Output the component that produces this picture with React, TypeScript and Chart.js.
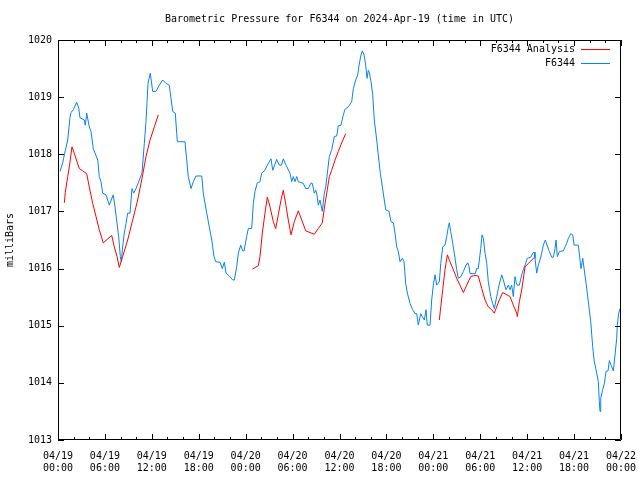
import React, { useEffect, useRef } from "react";
import { Chart, registerables } from "chart.js";

Chart.register(...registerables);

const TITLE = "Barometric Pressure for F6344 on 2024-Apr-19 (time in UTC)";
const Y_LABEL = "milliBars";
const SERIES_ANALYSIS = "F6344 Analysis";
const SERIES_OBS = "F6344";

// x tick labels (hours since 04/19 00:00 UTC, every 6 h)
const tickDates = ["04/19", "04/19", "04/19", "04/19", "04/20", "04/20", "04/20", "04/20", "04/21", "04/21", "04/21", "04/21", "04/22"];
const tickTimes = ["00:00", "06:00", "12:00", "18:00", "00:00", "06:00", "12:00", "18:00", "00:00", "06:00", "12:00", "18:00", "00:00"];

// F6344 observations: hours since start, pressure (mb)
const obsHours = [
  0.26, 0.6, 0.81, 1.24, 1.53, 1.66, 1.96, 2.39, 2.65, 2.81, 3.36, 3.49, 3.67, 4.0, 4.22, 4.51, 5.08, 5.28, 5.5, 5.72,
  6.14, 6.56, 7.07, 7.29, 7.55, 7.76, 7.97, 8.1, 8.27, 8.48, 8.7, 8.91, 9.21, 9.46, 9.68, 9.98, 10.4, 10.74, 11.04, 11.25,
  11.38, 11.51, 11.8, 12.11, 12.53, 12.96, 13.39, 13.81, 14.23, 14.45, 14.67, 15.0, 15.26, 16.24, 16.46, 16.66, 17.01, 17.3, 17.65, 18.38,
  18.58, 19.02, 19.35, 19.66, 19.95, 20.17, 20.72, 21.01, 21.27, 21.49, 21.91, 22.34, 22.55, 22.85, 23.06, 23.37, 23.62, 23.79, 24.13, 24.34,
  24.77, 24.98, 25.19, 25.49, 25.83, 26.05, 26.47, 26.77, 27.24, 27.46, 27.97, 28.3, 28.58, 28.81, 29.16, 29.67, 29.89, 30.09, 30.31, 30.53,
  30.73, 31.37, 31.68, 32.01, 32.36, 32.52, 32.78, 32.96, 33.12, 33.29, 33.51, 33.64, 33.8, 34.06, 34.24, 34.49, 34.7, 35.0, 35.34, 35.64,
  35.85, 36.19, 36.49, 36.71, 37.13, 37.56, 37.77, 38.07, 38.33, 38.5, 38.75, 38.92, 39.14, 39.35, 39.52, 39.69, 39.82, 40.03, 40.25, 40.45,
  40.76, 40.96, 41.22, 41.48, 41.73, 41.91, 42.33, 42.59, 42.88, 43.1, 43.32, 43.52, 43.74, 44.03, 44.25, 44.47, 44.68, 45.02, 45.36, 45.66,
  45.88, 46.08, 46.39, 46.62, 46.85, 47.07, 47.23, 47.58, 47.79, 48.0, 48.22, 48.43, 48.77, 48.95, 49.2, 49.49, 49.71, 49.92, 50.04, 50.22,
  50.48, 50.68, 50.99, 51.2, 51.54, 51.84, 52.18, 52.4, 52.56, 52.7, 53.37, 53.54, 53.75, 54.06, 54.23, 54.4, 54.61, 54.83, 55.03, 55.34,
  55.59, 55.8, 56.11, 56.4, 56.75, 56.95, 57.29, 57.59, 57.81, 58.02, 58.23, 58.45, 58.6, 58.74, 59.0, 59.3, 59.51, 59.73, 60.02, 60.46,
  60.71, 60.88, 61.0, 61.22, 61.43, 61.64, 61.86, 62.07, 62.32, 62.54, 62.83, 63.14, 63.35, 63.56, 63.69, 63.86, 64.12, 64.63, 64.85, 65.06,
  65.27, 65.57, 65.83, 66.0, 66.54, 66.76, 66.89, 67.11, 67.27, 67.53, 67.82, 68.13, 68.38, 68.59, 68.81, 69.1, 69.23, 69.32, 69.41, 69.66,
  69.89, 70.08, 70.34, 70.51, 70.76, 71.02, 71.24, 71.45, 71.53, 71.71, 71.88,
];
const obsPressure = [
  1017.7, 1017.85, 1017.99, 1018.25, 1018.64, 1018.73, 1018.78, 1018.91, 1018.81, 1018.64, 1018.6, 1018.51, 1018.72, 1018.48, 1018.4, 1018.1, 1017.9, 1017.61, 1017.52, 1017.32,
  1017.29, 1017.11, 1017.29, 1017.08, 1016.79, 1016.56, 1016.21, 1016.12, 1016.38, 1016.62, 1016.79, 1016.97, 1016.97, 1017.4, 1017.32, 1017.4, 1017.55, 1017.67, 1018.19, 1018.57,
  1018.89, 1019.24, 1019.42, 1019.1, 1019.1, 1019.21, 1019.3, 1019.24, 1019.21, 1018.98, 1018.75, 1018.72, 1018.22, 1018.22, 1017.9, 1017.61, 1017.4, 1017.52, 1017.62, 1017.62,
  1017.32, 1016.97, 1016.73, 1016.5, 1016.21, 1016.12, 1016.11, 1016.0, 1016.11, 1015.92, 1015.87, 1015.8, 1015.8, 1016.03, 1016.27, 1016.41, 1016.31, 1016.31, 1016.56, 1016.7,
  1016.7, 1017.14, 1017.35, 1017.5, 1017.52, 1017.67, 1017.72, 1017.81, 1017.92, 1017.72, 1017.91, 1017.81, 1017.81, 1017.92, 1017.81, 1017.67, 1017.52, 1017.61, 1017.52, 1017.61,
  1017.52, 1017.49, 1017.4, 1017.4, 1017.5, 1017.49, 1017.32, 1017.37, 1017.29, 1017.11, 1017.2, 1017.11, 1017.0, 1017.32, 1017.43, 1017.72, 1017.96, 1018.08, 1018.31, 1018.32,
  1018.5, 1018.51, 1018.69, 1018.79, 1018.83, 1018.92, 1019.15, 1019.3, 1019.39, 1019.56, 1019.74, 1019.81, 1019.74, 1019.56, 1019.33, 1019.47, 1019.43, 1019.27, 1019.04, 1018.6,
  1018.25, 1017.99, 1017.67, 1017.43, 1017.2, 1017.03, 1017.0, 1016.82, 1016.8, 1016.62, 1016.38, 1016.3, 1016.12, 1016.18, 1016.12, 1015.74, 1015.57, 1015.39, 1015.28, 1015.21,
  1015.21, 1015.01, 1015.21, 1015.15, 1015.1, 1015.28, 1015.01, 1015.01, 1015.45, 1015.71, 1015.89, 1015.71, 1015.77, 1016.09, 1016.38, 1016.41, 1016.56, 1016.73, 1016.8, 1016.65,
  1016.44, 1016.27, 1015.98, 1015.83, 1015.86, 1015.95, 1016.06, 1016.1, 1016.04, 1015.91, 1015.91, 1016.0, 1016.0, 1016.35, 1016.59, 1016.53, 1016.27, 1016.09, 1015.77, 1015.51,
  1015.39, 1015.3, 1015.51, 1015.71, 1015.89, 1015.8, 1015.63, 1015.71, 1015.63, 1015.71, 1015.51, 1015.86, 1015.75, 1015.71, 1015.71, 1015.89, 1015.98, 1016.06, 1016.18, 1016.2,
  1016.27, 1016.29, 1016.18, 1015.92, 1016.06, 1016.15, 1016.27, 1016.41, 1016.5, 1016.41, 1016.3, 1016.2, 1016.2, 1016.35, 1016.5, 1016.21, 1016.3, 1016.31, 1016.38, 1016.44,
  1016.53, 1016.61, 1016.59, 1016.41, 1016.41, 1016.15, 1016.0, 1016.18, 1016.01, 1015.74, 1015.42, 1015.07, 1014.63, 1014.37, 1014.23, 1014.02, 1013.67, 1013.5, 1013.73, 1013.88,
  1014.0, 1014.2, 1014.21, 1014.39, 1014.3, 1014.21, 1014.49, 1014.78, 1015.01, 1015.22, 1015.3,
];

// F6344 Analysis: null marks a gap between segments
const anaHours = [
  0.81, 0.93, 1.24, 1.45, 1.79, 2.08, 2.43, 2.72, 3.16, 3.67, 4.0, 4.44, 4.86, 5.28, 5.79, 6.36, 6.87, 7.2, 7.55, 7.84,
  8.27, 8.91, 9.55, 10.19, 10.83, 11.25, 11.77, 12.32, 12.83,
  18.8,
  24.85, 25.62, 25.83, 26.13, 26.47, 26.77, 27.11, 27.54, 27.84, 28.17, 28.52, 28.81, 29.16, 29.45, 29.8, 30.22, 30.73, 31.17, 31.68, 32.23,
  32.78, 33.29, 33.8, 34.15, 34.44, 34.7, 35.0, 35.43, 35.85, 36.28, 36.79,
  42.8,
  48.77, 48.95, 49.2, 49.49, 49.79, 50.13, 50.56, 50.99, 51.41, 51.84, 52.27, 52.78, 53.33, 53.75, 54.19, 54.61, 55.03, 55.47, 55.8, 56.18,
  56.53, 56.87, 57.29, 57.81, 58.23, 58.66, 58.74, 59.0, 59.3, 59.73, 60.15, 60.58, 60.88,
];
const anaPressure = [
  1017.15, 1017.33, 1017.61, 1017.78, 1018.13, 1018.02, 1017.87, 1017.75, 1017.71, 1017.66, 1017.43, 1017.14, 1016.91, 1016.68, 1016.45, 1016.52, 1016.58, 1016.38, 1016.21, 1016.02,
  1016.21, 1016.5, 1016.85, 1017.2, 1017.64, 1017.96, 1018.25, 1018.48, 1018.69,
  null,
  1015.99, 1016.05, 1016.21, 1016.62, 1016.97, 1017.25, 1017.08, 1016.82, 1016.7, 1016.94, 1017.2, 1017.37, 1017.1, 1016.85, 1016.59, 1016.82, 1017.01, 1016.85, 1016.66, 1016.63,
  1016.6, 1016.7, 1016.8, 1017.14, 1017.38, 1017.61, 1017.72, 1017.9, 1018.05, 1018.2, 1018.36,
  null,
  1015.1, 1015.33, 1015.63, 1015.98, 1016.24, 1016.12, 1015.98, 1015.83, 1015.71, 1015.58, 1015.71, 1015.86, 1015.88, 1015.87, 1015.65, 1015.45, 1015.33, 1015.28, 1015.22, 1015.36,
  1015.48, 1015.58, 1015.55, 1015.51, 1015.36, 1015.22, 1015.16, 1015.42, 1015.63, 1016.03, 1016.09, 1016.15, 1016.19,
];

const X_MIN = 0;
const X_MAX = 72;
const Y_MIN = 1013;
const Y_MAX = 1020;

const RED = "#ff0000";
const BLUE = "#0a80f5";
const FONT = "'DejaVu Sans Mono', 'Liberation Mono', monospace";

const framePlugin = {
  id: "gnuplotFrame",
  afterDraw(chart: any) {
    const { ctx, chartArea } = chart;
    const { left, right, top, bottom } = chartArea;
    const xs = chart.scales.x;
    const ys = chart.scales.y;
    ctx.save();
    ctx.strokeStyle = "#000";
    ctx.lineWidth = 1;
    ctx.beginPath();
    ctx.rect(left + 0.5, top + 0.5, right - left - 1, bottom - top - 1);
    ctx.stroke();
    ctx.beginPath();
    for (let h = X_MIN; h <= X_MAX; h += 2) {
      const px = Math.round(xs.getPixelForValue(h)) + 0.5;
      const len = h % 6 === 0 ? 6 : 3;
      ctx.moveTo(px, bottom);
      ctx.lineTo(px, bottom - len);
      ctx.moveTo(px, top);
      ctx.lineTo(px, top + len);
    }
    for (let v = Y_MIN; v <= Y_MAX; v += 1) {
      const py = Math.round(ys.getPixelForValue(v)) + 0.5;
      ctx.moveTo(left, py);
      ctx.lineTo(left + 6, py);
      ctx.moveTo(right, py);
      ctx.lineTo(right - 6, py);
    }
    ctx.stroke();

    ctx.fillStyle = "#000";
    ctx.font = `10px ${FONT}`;
    ctx.textAlign = "center";
    ctx.textBaseline = "middle";
    ctx.fillText(TITLE, (left + right) / 2, 19);

    ctx.save();
    ctx.translate(10, (top + bottom) / 2);
    ctx.rotate(-Math.PI / 2);
    ctx.fillText(Y_LABEL, 0, 0);
    ctx.restore();

    const entries = [
      { label: SERIES_ANALYSIS, color: RED, y: 49 },
      { label: SERIES_OBS, color: BLUE, y: 63 },
    ];
    ctx.textAlign = "right";
    for (const e of entries) {
      ctx.fillStyle = "#000";
      ctx.fillText(e.label, 575, e.y);
      ctx.strokeStyle = e.color;
      ctx.beginPath();
      ctx.moveTo(581, e.y + 0.5);
      ctx.lineTo(610, e.y + 0.5);
      ctx.stroke();
    }
    ctx.restore();
  },
};

export default function App() {
  const canvasRef = useRef<HTMLCanvasElement | null>(null);

  useEffect(() => {
    if (!canvasRef.current) return;
    const obsData = obsHours.map((h, i) => ({ x: h, y: obsPressure[i] }));
    const anaData = anaHours.map((h, i) => ({ x: h, y: anaPressure[i] }));
    const chart = new Chart(canvasRef.current, {
      type: "line",
      data: {
        datasets: [
          {
            label: SERIES_ANALYSIS,
            data: anaData as any,
            borderColor: RED,
            borderWidth: 1,
            pointRadius: 0,
            fill: false,
            spanGaps: false,
            tension: 0,
          },
          {
            label: SERIES_OBS,
            data: obsData,
            borderColor: BLUE,
            borderWidth: 1,
            pointRadius: 0,
            fill: false,
            tension: 0,
          },
        ],
      },
      options: {
        animation: false,
        responsive: false,
        maintainAspectRatio: false,
        events: [],
        layout: { padding: { top: 40, right: 19, left: 0, bottom: 0 } },
        plugins: {
          legend: { display: false },
          title: { display: false },
          tooltip: { enabled: false },
        },
        scales: {
          x: {
            type: "linear",
            min: X_MIN,
            max: X_MAX,
            grid: { display: false, drawTicks: false },
            border: { display: false },
            afterFit: (scale: any) => {
              scale.height = 40;
              scale.paddingLeft = 0;
              scale.paddingRight = 0;
            },
            ticks: {
              stepSize: 6,
              autoSkip: false,
              maxRotation: 0,
              padding: 10,
              color: "#000",
              font: { family: FONT, size: 10 },
              callback: (value: any) => {
                const i = Math.round(Number(value) / 6);
                return [tickDates[i], tickTimes[i]];
              },
            },
          },
          y: {
            type: "linear",
            min: Y_MIN,
            max: Y_MAX,
            grid: { display: false, drawTicks: false },
            border: { display: false },
            afterFit: (scale: any) => {
              scale.width = 58;
              scale.paddingTop = 0;
              scale.paddingBottom = 0;
            },
            ticks: {
              stepSize: 1,
              padding: 6,
              color: "#000",
              font: { family: FONT, size: 10 },
              callback: (value: any) => String(value),
            },
          },
        },
      },
      plugins: [framePlugin],
    });
    return () => chart.destroy();
  }, []);

  return (
    <div style={{ position: "fixed", left: 0, top: 0, width: 640, height: 480, background: "#fff" }}>
      <canvas ref={canvasRef} width={640} height={480} style={{ width: 640, height: 480 }} />
    </div>
  );
}
